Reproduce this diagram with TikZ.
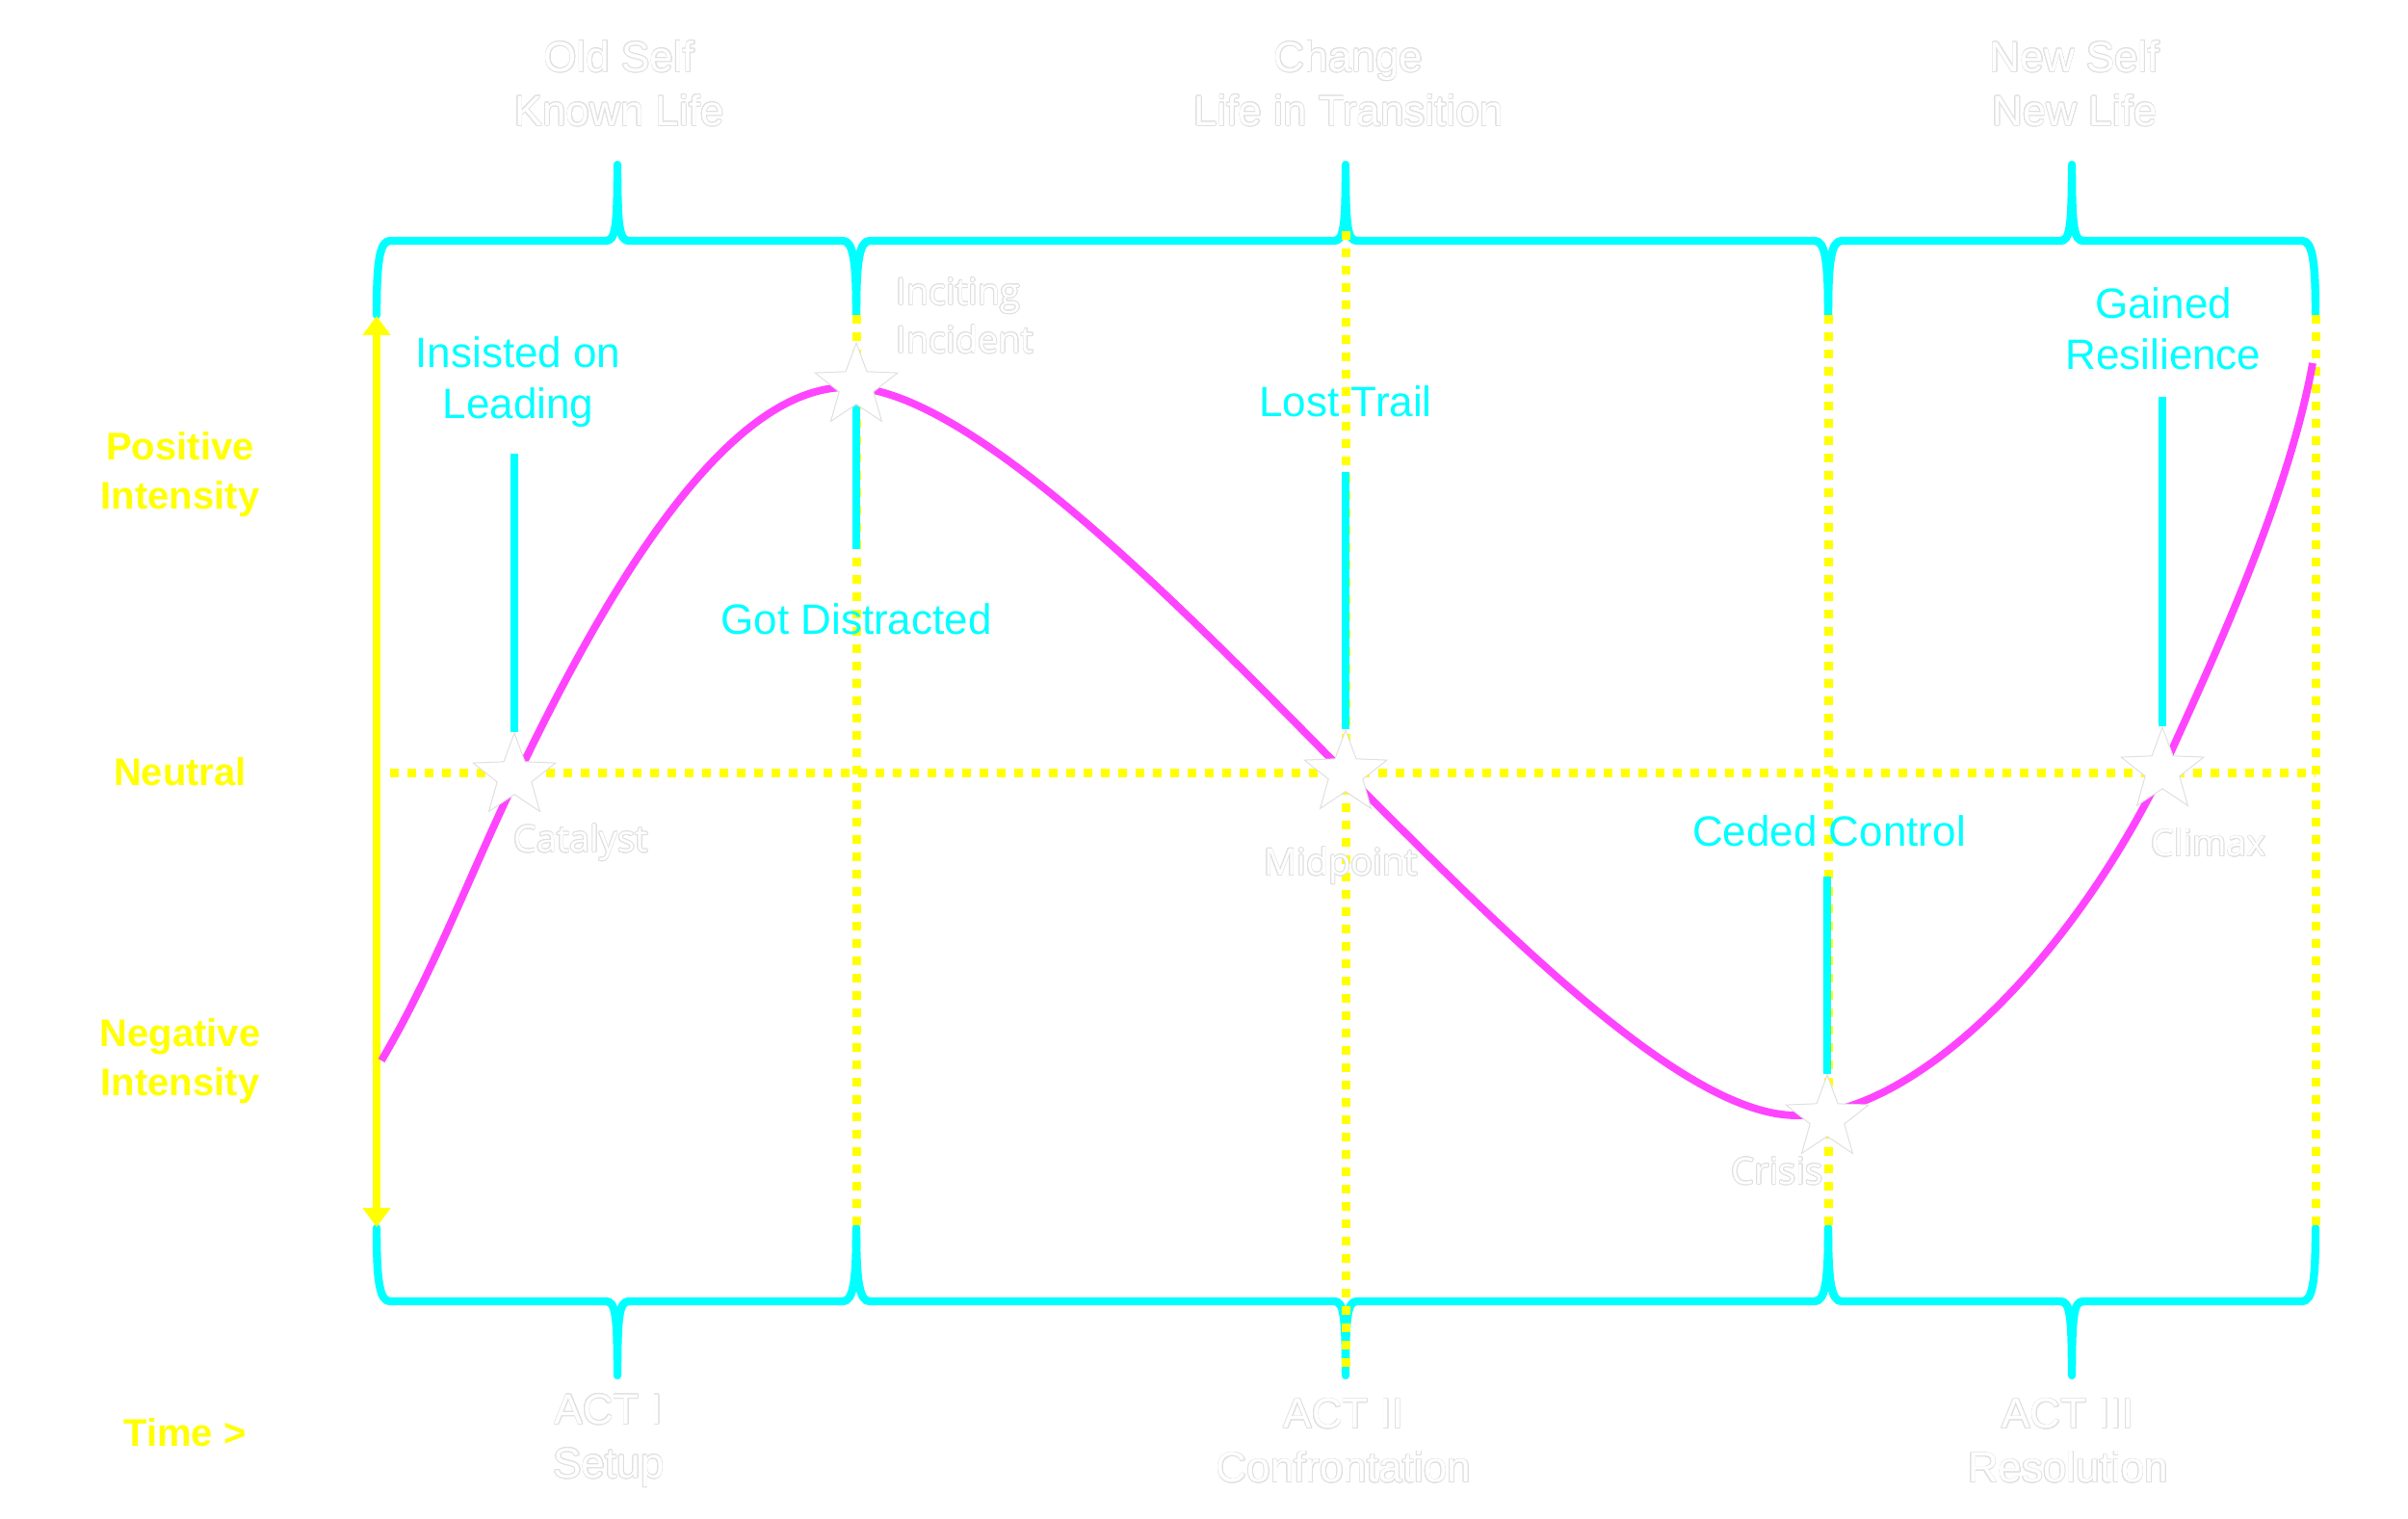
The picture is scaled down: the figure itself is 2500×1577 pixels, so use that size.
\documentclass[tikz,border=0pt]{standalone}
\usepackage{fontspec}
\setmainfont{Liberation Sans}
\newfontfamily\starfont{Open Sans}
\usepackage{contour}
\contourlength{0.35pt}
\contournumber{16}
\usetikzlibrary{arrows.meta,shapes.geometric}
\definecolor{cy}{HTML}{00FFFF}
\definecolor{mg}{HTML}{FF44FF}
\definecolor{yl}{HTML}{FFFF00}
\definecolor{olc}{HTML}{E0E0E0}
\newcommand{\olt}[1]{\contour{olc}{#1}}
\newcommand{\topbr}[3]{%
  \draw[bracestyle] (#1,327) .. controls (#1,272) and (#1+3,250) .. (#1+14,250) -- (#2-12,250)
    .. controls (#2-2,250) and (#2,236) .. (#2,171) .. controls (#2,236) and (#2+2,250) .. (#2+12,250)
    -- (#3-14,250) .. controls (#3-3,250) and (#3,272) .. (#3,327);}
\newcommand{\botbr}[3]{%
  \draw[bracestyle] (#1,1275) .. controls (#1,1330) and (#1+3,1351) .. (#1+14,1351) -- (#2-12,1351)
    .. controls (#2-2,1351) and (#2,1365) .. (#2,1428) .. controls (#2,1365) and (#2+2,1351) .. (#2+12,1351)
    -- (#3-14,1351) .. controls (#3-3,1351) and (#3,1330) .. (#3,1275);}
\begin{document}
\begin{tikzpicture}[x=0.5pt,y=-0.5pt,
  bracestyle/.style={draw=cy, line width=4.2pt, line join=round, line cap=round},
  dotline/.style={draw=yl, line width=4.5pt, dash pattern=on 4.5pt off 4.5pt},
  cyline/.style={draw=cy, line width=4.2pt},
  arcline/.style={draw=mg, line width=3.9pt},
  yarrow/.style={draw=yl, line width=3.6pt, {Triangle[width=14pt,length=10pt]}-{Triangle[width=14pt,length=10pt]}},
  ystar/.style={star, star points=5, star point ratio=2.4, minimum size=45pt, inner sep=0pt, fill=white, draw=olc, line width=0.5pt},
  ttl/.style={text=white, font=\fontsize{22}{28}\selectfont, align=center},
  cylab/.style={text=cy, font=\fontsize{22}{26.5}\selectfont, align=center},
  ylab/.style={text=yl, font=\bfseries\fontsize{20}{25.5}\selectfont, align=center},
  slab/.style={text=white, font=\starfont\fontsize{19}{25}\selectfont, align=center}
]
\useasboundingbox (0,0) rectangle (2500,1577);
\fill[white] (0,0) rectangle (2500,1577);

% braces
\topbr{391}{641}{889}
\topbr{889}{1397}{1898}
\topbr{1898}{2151}{2404}
\botbr{391}{641}{889}
\botbr{889}{1397}{1898}
\botbr{1898}{2151}{2404}

% dotted grid
\coordinate (n0) at (405,802);
\coordinate (n1) at (2404,802);
\coordinate (v1a) at (889,327);  \coordinate (v1b) at (889,1275);
\coordinate (v2a) at (1397,240); \coordinate (v2b) at (1397,1428);
\coordinate (v3a) at (1898,327); \coordinate (v3b) at (1898,1275);
\coordinate (v4a) at (2404,327); \coordinate (v4b) at (2404,1275);
\draw[dotline] (n0) -- (n1);
\draw[dotline] (v1a) -- (v1b);
\draw[dotline] (v2a) -- (v2b);
\draw[dotline] (v3a) -- (v3b);
\draw[dotline] (v4a) -- (v4b);

% vertical axis arrow
\coordinate (ya) at (391,328);
\coordinate (yb) at (391,1274);
\draw[yarrow] (ya) -- (yb);

% star positions
\coordinate (p1) at (534,806);
\coordinate (p2) at (889,401);
\coordinate (p3) at (1397,803);
\coordinate (p4) at (1897,1161);
\coordinate (p5) at (2245,800);

% cyan connectors
\coordinate (c1) at (534,471);
\coordinate (c2) at (889,570);
\coordinate (c3) at (1397,490);
\coordinate (c4) at (1897,910);
\coordinate (c5) at (2245,412);
\node[ystar, draw=none, fill=none] (s1) at (p1) {};
\node[ystar, draw=none, fill=none] (s2) at (p2) {};
\node[ystar, draw=none, fill=none] (s3) at (p3) {};
\node[ystar, draw=none, fill=none] (s4) at (p4) {};
\node[ystar, draw=none, fill=none] (s5) at (p5) {};
\draw[cyline] (c1) -- (s1.north);
\draw[cyline] (s2.center) -- (c2);
\draw[cyline] (c3) -- (s3.north);
\draw[cyline] (c4) -- (s4.north);
\draw[cyline] (c5) -- (s5.north);

% story arc
\draw[arcline] (396,1101) .. controls (450,1010) and (492,898) .. (536,808)
  .. controls (640,590) and (760,402) .. (880,402)
  .. controls (1010,402) and (1245,650) .. (1397,803)
  .. controls (1550,955) and (1745,1158) .. (1865,1158)
  .. controls (1990,1158) and (2150,995) .. (2245,800)
  .. controls (2295,690) and (2375,520) .. (2401,377);

% visible stars
\node[ystar] (st1) at (p1) {};
\node[ystar] (st2) at (p2) {};
\node[ystar] (st3) at (p3) {};
\node[ystar] (st4) at (p4) {};
\node[ystar] (st5) at (p5) {};

% star labels
\node[slab] (lcat) at (603,875) {\olt{Catalyst}};
\node[slab, anchor=west, align=left, inner sep=0pt] (linc) at (930,328) {\olt{Inciting}\\\olt{Incident}};
\node[slab] (lmid) at (1392,899) {\olt{Midpoint}};
\node[slab] (lcri) at (1845,1216) {\olt{Crisis}};
\node[slab] (lcli) at (2293,875) {\olt{Climax}};

% cyan labels
\node[cylab] (q1) at (538,397) {Insisted on\\Leading};
\node[cylab] (q2) at (889,643) {Got Distracted};
\node[cylab] (q3) at (1397,417) {Lost Trail};
\node[cylab] (q4) at (1899,863) {Ceded Control};
\node[cylab] (q5) at (2246,341) {Gained\\Resilience};

% titles
\node[ttl] (t1) at (643,87) {\olt{Old Self}\\\olt{Known Life}};
\node[ttl] (t2) at (1400,87) {\olt{Change}\\\olt{Life in Transition}};
\node[ttl] (t3) at (2154,87) {\olt{New Self}\\\olt{New Life}};
\node[ttl] (b1) at (632,1496) {\olt{ACT I}\\\olt{Setup}};
\node[ttl] (b2) at (1395,1496) {\olt{ACT II}\\\olt{Confrontation}};
\node[ttl] (b3) at (2147,1496) {\olt{ACT III}\\\olt{Resolution}};

% yellow axis labels
\node[ylab] (y1) at (187,493) {Positive\\Intensity};
\node[ylab] (y2) at (187,801) {Neutral};
\node[ylab] (y3) at (187,1102) {Negative\\Intensity};
\node[ylab] (y4) at (192,1487) {Time >};
\end{tikzpicture}
\end{document}
